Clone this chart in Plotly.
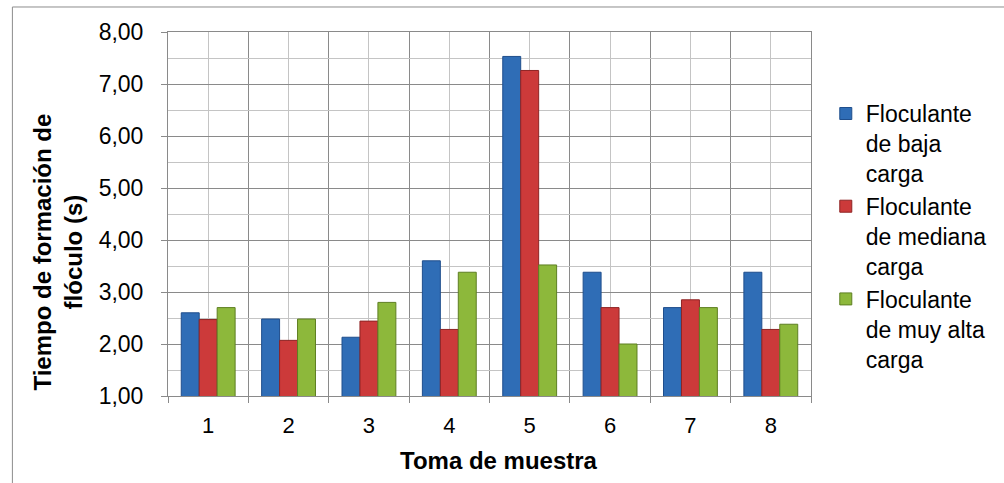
import plotly.graph_objects as go

# Toma de muestra (1..8) and flocculation time per flocculant type
muestras = [1, 2, 3, 4, 5, 6, 7, 8]
etiquetas = ["1", "2", "3", "4", "5", "6", "7", "8"]

baja_carga = [2.60, 2.48, 2.13, 3.60, 7.53, 3.38, 2.70, 3.38]
mediana_carga = [2.47, 2.07, 2.44, 2.28, 7.26, 2.70, 2.85, 2.28]
muy_alta_carga = [2.70, 2.48, 2.80, 3.38, 3.52, 2.00, 2.70, 2.38]

series = [
    ("Floculante<br>de baja<br>carga", baja_carga, "#2F6DB6", "#1F4E8C"),
    ("Floculante<br>de mediana<br>carga", mediana_carga, "#CC3A3A", "#8E2424"),
    ("Floculante<br>de muy alta<br>carga", muy_alta_carga, "#8DB83B", "#5E7F22"),
]

y_ticks = [1, 2, 3, 4, 5, 6, 7, 8]

FONT = "Liberation Sans, Arial, sans-serif"
MAJOR = "#8A8A8A"
MINOR = "#C4C4C4"

fig = go.Figure()
for nombre, valores, color, borde in series:
    fig.add_trace(go.Bar(
        x=muestras, y=valores, name=nombre,
        marker=dict(color=color, line=dict(color=borde, width=1)),
    ))

fig.update_layout(
    width=1004, height=483,
    margin=dict(l=168, r=183, t=32, b=87),
    paper_bgcolor="white", plot_bgcolor="white",
    barmode="group", bargap=0.33, bargroupgap=0.0,
    separators=",.",
    font=dict(family=FONT, size=22, color="#000000"),
    showlegend=True,
    legend=dict(
        x=1.023, y=0.835, xanchor="left", yanchor="top",
        font=dict(family=FONT, size=23, color="#000000"),
        tracegroupgap=0, itemwidth=30, valign="top",
        bgcolor="rgba(0,0,0,0)",
    ),
)

fig.update_xaxes(
    range=[0.5, 8.5],
    tickmode="array", tickvals=muestras, ticktext=etiquetas,
    ticks="", showgrid=True, gridcolor=MINOR, gridwidth=1,
    showline=True, linecolor=MAJOR, linewidth=1, mirror=True,
    tickfont=dict(family=FONT, size=22),
    ticklabelstandoff=10,
    minor=dict(tick0=0.5, dtick=1, ticks="outside", ticklen=6,
               tickcolor=MAJOR, showgrid=True, gridcolor=MAJOR, gridwidth=1),
    zeroline=False,
)

fig.update_yaxes(
    range=[1, 8],
    tickmode="array", tickvals=y_ticks, tickformat=".2f",
    ticks="outside", ticklen=6, tickcolor=MAJOR,
    showgrid=True, gridcolor=MAJOR, gridwidth=1,
    showline=True, linecolor=MAJOR, linewidth=1, mirror=True,
    tickfont=dict(family=FONT, size=23),
    ticklabelstandoff=13,
    minor=dict(dtick=0.5, tick0=0, showgrid=True, gridcolor=MINOR, gridwidth=1, ticks=""),
    zeroline=False,
)

# Axis titles
fig.add_annotation(
    text="<b>Toma de muestra</b>", xref="paper", yref="paper",
    x=0.515, y=-0.176, xanchor="center", yanchor="middle", showarrow=False,
    font=dict(family=FONT, size=24, color="#000000"),
)
fig.add_annotation(
    text="<b>Tiempo de formación de<br>flóculo (s)</b>", xref="paper", yref="paper",
    x=-0.1715, y=0.396, xanchor="center", yanchor="middle", textangle=-90,
    showarrow=False, font=dict(family=FONT, size=24, color="#000000"),
)

# Chart frame
fig.add_shape(
    type="rect", xref="paper", yref="paper",
    x0=-0.242, x1=2.0, y0=-1.0, y1=1.0687,
    line=dict(color="#8C8C8C", width=1), fillcolor="rgba(0,0,0,0)", layer="below",
)

fig.write_html("out.html")
